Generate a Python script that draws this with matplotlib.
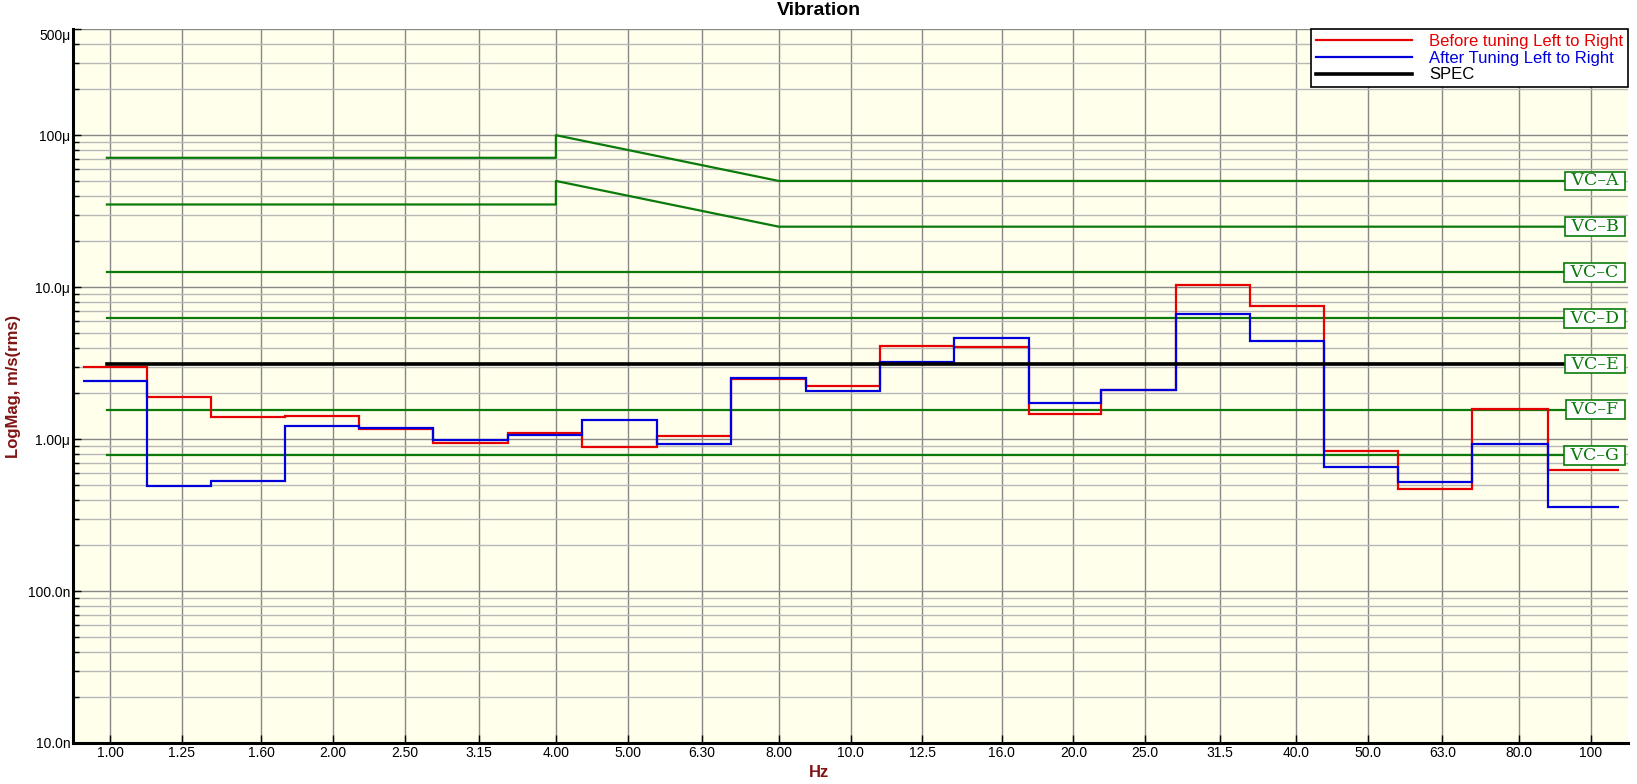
import matplotlib
matplotlib.use('Agg')  # no display

import matplotlib.pyplot as plt
import matplotlib.transforms as mtransforms
from matplotlib.ticker import FixedLocator, NullLocator, LogLocator, NullFormatter

# one-third octave band centres (Hz) and the labels printed under them
band_centres = [1.00, 1.25, 1.60, 2.00, 2.50, 3.15, 4.00, 5.00, 6.30, 8.00, 10.0,
                12.5, 16.0, 20.0, 25.0, 31.5, 40.0, 50.0, 63.0, 80.0, 100.0]
band_labels = ['1.00', '1.25', '1.60', '2.00', '2.50', '3.15', '4.00', '5.00', '6.30',
               '8.00', '10.0', '12.5', '16.0', '20.0', '25.0', '31.5', '40.0', '50.0',
               '63.0', '80.0', '100']
# where the traces step from one band to the next (Hz)
band_edges = [0.92, 1.12, 1.37, 1.72, 2.17, 2.73, 3.45, 4.34, 5.48, 6.90, 8.70,
              10.96, 13.8, 17.4, 21.8, 27.5, 34.6, 43.6, 54.9, 69.1, 87.5, 109.0]

# band levels, um/s rms
before_tuning = [2.99, 1.90, 1.39, 1.42, 1.16, 0.94, 1.10, 0.885, 1.05, 2.49, 2.24,
                 4.11, 4.05, 1.46, 2.12, 10.4, 7.57, 0.838, 0.471, 1.58, 0.628]
after_tuning = [2.43, 0.493, 0.532, 1.22, 1.19, 0.985, 1.06, 1.34, 0.935, 2.53, 2.06,
                3.23, 4.64, 1.74, 2.09, 6.7, 4.45, 0.66, 0.524, 0.935, 0.355]

# vibration criteria curves, um/s
vc_names = ['VC\u2013A', 'VC\u2013B', 'VC\u2013C', 'VC\u2013D', 'VC\u2013E', 'VC\u2013F', 'VC\u2013G']
vc_levels = [50.0, 25.0, 12.5, 6.25, 3.12, 1.56, 0.78]
vc_bend_freqs = [0.99, 4.0, 4.0, 8.0, 105.0]
vc_a_curve = [71.0, 71.0, 100.0, 50.0, 50.0]
vc_b_curve = [35.0, 35.0, 50.0, 25.0, 25.0]
spec_level = 3.12
line_start, line_end = 0.99, 105.0

y_ticks = [1e-8, 1e-7, 1e-6, 1e-5, 1e-4, 5e-4]
y_labels = ['10.0n', '100.0n', '1.00\u03bc', '10.0\u03bc', '100\u03bc', '500\u03bc']

GREEN = '#0B7A0B'
RED = '#E60000'
BLUE = '#0000DC'
DARKRED = '#801414'
u = 1e-6

plt.rcParams['font.family'] = ['Liberation Sans', 'DejaVu Sans']

fig = plt.figure(figsize=(16.37, 7.84), dpi=100)
ax = fig.add_axes([73 / 1637, 1 - 743 / 784, 1555 / 1637, 714 / 784])
ax.set_facecolor('#FFFFEB')
ax.set_xscale('log')
ax.set_yscale('log')
ax.set_xlim(0.891, 112.2)
ax.set_ylim(1e-8, 5e-4)

# criteria lines
ax.plot(vc_bend_freqs, [v * u for v in vc_a_curve], color=GREEN, lw=1.6, zorder=2)
ax.plot(vc_bend_freqs, [v * u for v in vc_b_curve], color=GREEN, lw=1.6, zorder=2)
for lvl in vc_levels[2:]:
    ax.plot([line_start, line_end], [lvl * u, lvl * u], color=GREEN, lw=1.6, zorder=2)

ax.stairs([v * u for v in before_tuning], band_edges, baseline=None,
          color=RED, lw=1.6, zorder=3, label='Before tuning Left to Right')
ax.stairs([v * u for v in after_tuning], band_edges, baseline=None,
          color=BLUE, lw=1.6, zorder=4, label='After Tuning Left to Right')
ax.plot([line_start, line_end], [spec_level * u, spec_level * u], color='black',
        lw=2.6, zorder=5, label='SPEC')

# criteria tags at the right edge
trans = mtransforms.blended_transform_factory(ax.transAxes, ax.transData)
for name, lvl in zip(vc_names, vc_levels):
    ax.text(0.9975, lvl * u, ' ' + name + ' ', transform=trans, ha='right', va='center',
            color=GREEN, family='DejaVu Serif', fontsize=12.5, zorder=6,
            bbox=dict(boxstyle='square,pad=0.05', fc='white', ec=GREEN, lw=1.2))

# axes, ticks, grid
ax.xaxis.set_major_locator(FixedLocator(band_centres))
ax.set_xticklabels(band_labels)
ax.xaxis.set_minor_locator(NullLocator())
ax.yaxis.set_major_locator(FixedLocator(y_ticks))
ax.set_yticklabels(y_labels)
ax.yaxis.set_minor_locator(LogLocator(base=10, subs=[2, 3, 4, 5, 6, 7, 8, 9]))
ax.yaxis.set_minor_formatter(NullFormatter())
ax.get_yticklabels()[-1].set_va('top')

ax.tick_params(axis='both', which='major', direction='in', length=6, width=1,
               labelsize=10, pad=2)
ax.tick_params(axis='y', which='minor', direction='in', length=4, width=1)
ax.grid(True, which='major', axis='x', color='#888888', lw=1)
ax.grid(True, which='major', axis='y', color='#888888', lw=1)
ax.grid(True, which='minor', axis='y', color='#B8B8B8', lw=1)
ax.set_axisbelow(True)

for side in ('top', 'right'):
    ax.spines[side].set_visible(False)
for side in ('left', 'bottom'):
    ax.spines[side].set_linewidth(2.2)

ax.set_ylabel('LogMag, m/s(rms)', color=DARKRED, fontsize=12, fontweight='bold')
ax.yaxis.set_label_coords(-0.0334, 0.5)

fig.text(0.5, 1 - 10.7 / 784, 'Vibration', ha='center', va='center',
         fontsize=14, fontweight='bold')
fig.text(0.5, 1 - 772.7 / 784, 'Hz', ha='center', va='center',
         fontsize=12, fontweight='bold', color=DARKRED)

leg = ax.legend(loc='upper right', bbox_to_anchor=(1.0, 1.0), borderaxespad=0,
                fancybox=False, edgecolor='black', framealpha=1, fontsize=12,
                handlelength=5.8, handletextpad=1.0, borderpad=0.3, labelspacing=0.1)
leg.get_frame().set_linewidth(1.2)
leg.set_zorder(10)
for txt, col in zip(leg.get_texts(), [RED, BLUE, 'black']):
    txt.set_color(col)

fig.savefig('out.png', dpi=100)
